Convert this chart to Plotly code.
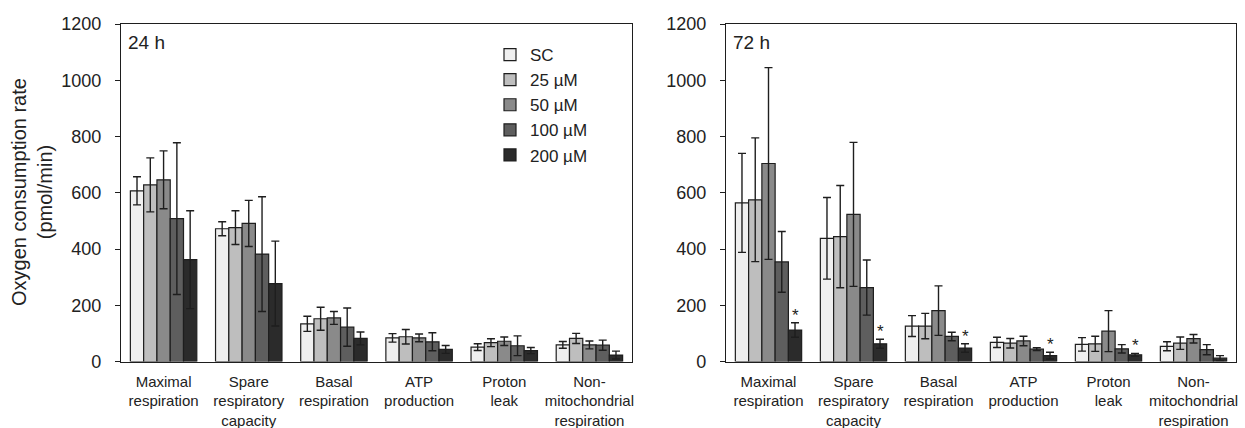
import plotly.graph_objects as go

# ---------------- data ----------------
categories = [
    "Maximal<br>respiration",
    "Spare<br>respiratory<br>capacity",
    "Basal<br>respiration",
    "ATP<br>production",
    "Proton<br>leak",
    "Non-<br>mitochondrial<br>respiration",
]
series_names = ["SC", "25 µM", "50 µM", "100 µM", "200 µM"]

# 24 h means / error
sc_24 = [607, 472, 134, 84, 51, 59]
c25_24 = [628, 476, 152, 88, 67, 82]
c50_24 = [646, 491, 155, 84, 72, 59]
c100_24 = [508, 382, 122, 70, 56, 58]
c200_24 = [362, 277, 82, 43, 39, 23]
sc_24_err = [50, 25, 27, 15, 12, 12]
c25_24_err = [96, 60, 41, 26, 14, 18]
c50_24_err = [103, 82, 23, 14, 15, 14]
c100_24_err = [270, 204, 68, 32, 35, 18]
c200_24_err = [174, 151, 23, 14, 11, 14]

# 72 h means / error
sc_72 = [564, 438, 126, 68, 61, 54]
c25_72 = [575, 444, 126, 65, 63, 65]
c50_72 = [704, 523, 181, 73, 108, 81]
c100_72 = [354, 263, 89, 44, 45, 42]
c200_72 = [112, 63, 48, 21, 24, 12]
sc_72_err = [176, 145, 37, 18, 24, 16]
c25_72_err = [220, 182, 45, 17, 27, 22]
c50_72_err = [341, 256, 88, 17, 73, 15]
c100_72_err = [108, 98, 15, 5, 15, 18]
c200_72_err = [26, 16, 15, 12, 5, 9]

# significance markers (200 µM, 72 h)
sig_72_200 = [True, True, True, True, True, False]

y_ticks = [0, 200, 400, 600, 800, 1000, 1200]

# ---------------- styling ----------------
W, H = 1245, 428
colors = ["#efefef", "#bebebe", "#8a8a8a", "#5e5e5e", "#2b2b2b"]
edge = "#1e1e1e"
txt = "#222222"
FONT = "Liberation Sans, Arial, sans-serif"
bargap = 0.22


def px_x(p):
    return p / W


def px_y(p):
    return 1 - p / H


y_dom = [px_y(361.5), px_y(24)]
x1_dom = [px_x(121), px_x(632)]
x2_dom = [px_x(726), px_x(1236)]

vals24 = [sc_24, c25_24, c50_24, c100_24, c200_24]
errs24 = [sc_24_err, c25_24_err, c50_24_err, c100_24_err, c200_24_err]
vals72 = [sc_72, c25_72, c50_72, c100_72, c200_72]
errs72 = [sc_72_err, c25_72_err, c50_72_err, c100_72_err, c200_72_err]

fig = go.Figure()
for i, name in enumerate(series_names):
    for vals, errs, xa, ya, show in (
        (vals24, errs24, "x", "y", True),
        (vals72, errs72, "x2", "y2", False),
    ):
        fig.add_trace(go.Bar(
            x=categories, y=vals[i], name=name,
            xaxis=xa, yaxis=ya, showlegend=show, legendgroup=name,
            marker=dict(color=colors[i], line=dict(color=edge, width=1.2)),
            error_y=dict(type="data", array=errs[i], color=edge,
                         thickness=1.4, width=4),
        ))

axis_common_y = dict(
    range=[0, 1200], tickvals=y_ticks, showgrid=False, zeroline=False,
    showline=True, linecolor=edge, linewidth=1.3, mirror=True,
    ticks="outside", ticklen=5, tickcolor=edge, tickwidth=1.3,
    ticklabelstandoff=10, automargin=False,
    tickfont=dict(family=FONT, size=18, color=txt), domain=y_dom,
)
axis_common_x = dict(
    type="category", showgrid=False, zeroline=False, automargin=False,
    showline=True, linecolor=edge, linewidth=1.3, mirror=True,
    ticks="", ticklabeloverflow="allow", ticklabelstandoff=6,
    tickfont=dict(family=FONT, size=15, color=txt),
)

annotations = [
    dict(text="24 h", xref="paper", yref="paper", x=px_x(126), y=px_y(43),
         xanchor="left", yanchor="middle", showarrow=False,
         font=dict(family=FONT, size=19, color=txt)),
    dict(text="72 h", xref="paper", yref="paper", x=px_x(731), y=px_y(43),
         xanchor="left", yanchor="middle", showarrow=False,
         font=dict(family=FONT, size=19, color=txt)),
    dict(text="Oxygen consumption rate<br>(pmol/min)", xref="paper", yref="paper",
         x=px_x(32), y=px_y(192), xanchor="center", yanchor="middle",
         textangle=-90, showarrow=False,
         font=dict(family=FONT, size=20, color=txt)),
]

offset5 = 0.4 * (1 - bargap)
for k, flag in enumerate(sig_72_200):
    if flag:
        annotations.append(dict(
            text="*", xref="x2", yref="y2", x=k + offset5,
            y=c200_72[k] + c200_72_err[k], xanchor="center", yanchor="bottom",
            yshift=-4, showarrow=False,
            font=dict(family=FONT, size=17, color=txt)))

fig.update_layout(
    width=W, height=H, margin=dict(l=0, r=0, t=0, b=0, autoexpand=False),
    paper_bgcolor="white", plot_bgcolor="white",
    barmode="group", bargap=bargap, bargroupgap=0,
    xaxis=dict(axis_common_x, domain=x1_dom, anchor="y"),
    yaxis=dict(axis_common_y, anchor="x"),
    xaxis2=dict(axis_common_x, domain=x2_dom, anchor="y2"),
    yaxis2=dict(axis_common_y, anchor="x2"),
    legend=dict(x=px_x(490), y=px_y(37), xanchor="left", yanchor="top",
                font=dict(family=FONT, size=17, color=txt),
                bgcolor="rgba(0,0,0,0)", tracegroupgap=0, itemwidth=30),
    annotations=annotations,
    font=dict(family=FONT, color=txt),
)

fig.write_html(
    "out.html",
    config={"displayModeBar": False},
    post_script="document.body.style.margin='0px';document.body.style.overflow='hidden';",
)
